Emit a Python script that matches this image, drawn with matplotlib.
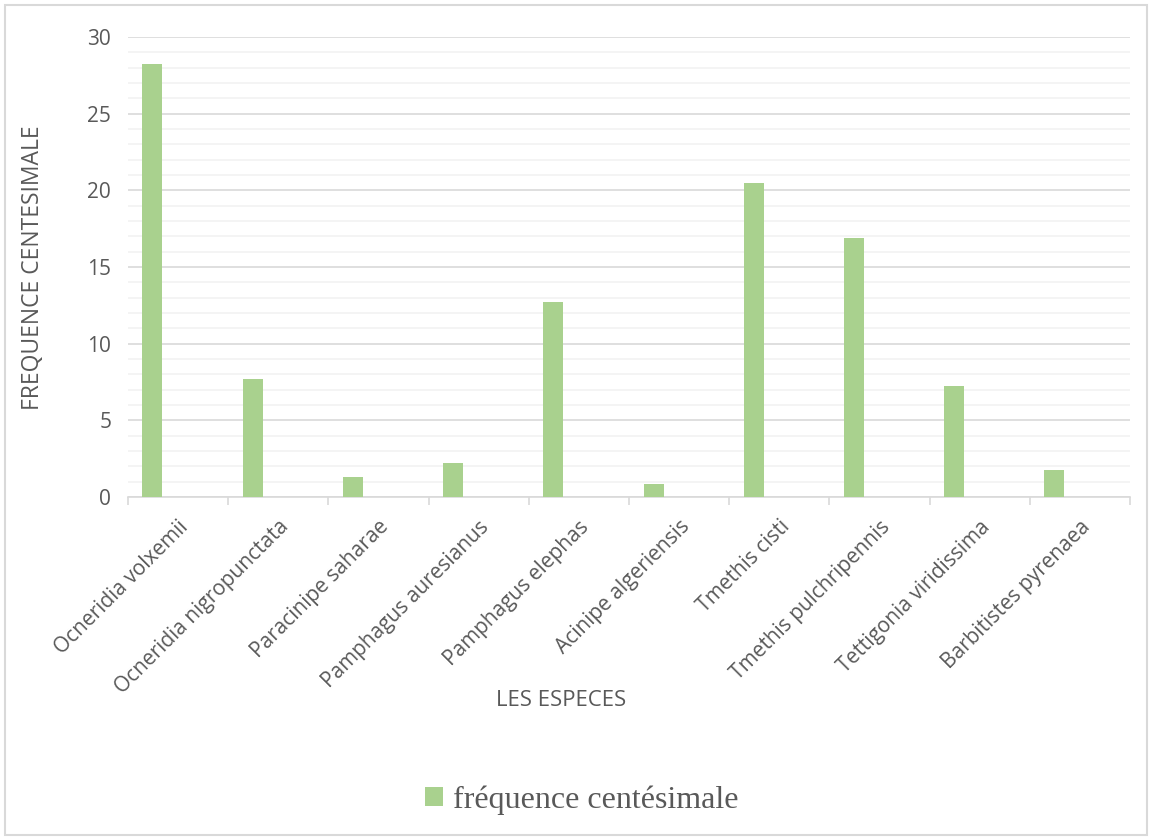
import matplotlib.pyplot as plt
import numpy as np
from matplotlib.patches import Rectangle

especes = ['Ocneridia volxemii', 'Ocneridia nigropunctata', 'Paracinipe saharae',
           'Pamphagus auresianus', 'Pamphagus elephas', 'Acinipe algeriensis',
           'Tmethis cisti', 'Tmethis pulchripennis', 'Tettigonia viridissima',
           'Barbitistes pyrenaea']
frequence = [28.25, 7.7, 1.3, 2.24, 12.74, 0.87, 20.48, 16.87, 7.26, 1.78]

green = '#A9D18E'
txt = '#595959'
sans = ['Open Sans', 'DejaVu Sans']

fig = plt.figure(figsize=(11.52, 8.38), dpi=100)
fig.patches.append(Rectangle((0.004, 0.004), 0.992, 0.99, transform=fig.transFigure,
                             fill=False, edgecolor='#D9D9D9', linewidth=1.5))
ax = fig.add_axes([0.111, 0.407, 0.87, 0.549])

x = np.arange(len(especes))
ax.bar(x - 0.255, frequence, width=0.2, color=green, label='fréquence centésimale', zorder=3)

ax.set_xlim(-0.5, len(especes) - 0.5)
ax.set_ylim(0, 30)
ax.set_yticks(range(0, 31, 5))
ax.set_yticks(range(0, 31), minor=True)
ax.grid(axis='y', which='major', color='#D9D9D9', linewidth=1.2, zorder=0)
ax.grid(axis='y', which='minor', color='#F2F2F2', linewidth=1.2, zorder=0)
ax.tick_params(axis='y', which='both', length=0, labelsize=15, labelcolor=txt, pad=12)
for lab in ax.get_yticklabels():
    lab.set_family(sans)

# category boundary ticks
ax.set_xticks(np.arange(-0.5, len(especes)), minor=True)
ax.set_xticks(x)
ax.set_xticklabels(especes, rotation=45, ha='right', rotation_mode='anchor',
                   fontsize=15, color=txt, family=sans)
ax.tick_params(axis='x', which='major', length=0, pad=14)
ax.tick_params(axis='x', which='minor', length=6, color='#D9D9D9', width=1.2)

for s in ['top', 'right', 'left']:
    ax.spines[s].set_visible(False)
ax.spines['bottom'].set_color('#D9D9D9')
ax.spines['bottom'].set_linewidth(1.2)

fig.text(0.029, 0.68, 'FREQUENCE CENTESIMALE', rotation=90, ha='center', va='center',
         fontsize=16.5, color=txt, family=sans)
fig.text(0.487, 0.164, 'LES ESPECES', ha='center', va='center',
         fontsize=16, color=txt, family=sans)

leg = fig.legend(loc='center', bbox_to_anchor=(0.505, 0.045), frameon=False,
                 prop={'family': 'Liberation Serif', 'size': 23},
                 handlelength=0.55, handleheight=0.55, handletextpad=0.3)
for t in leg.get_texts():
    t.set_color(txt)

fig.savefig('out.png', dpi=100)
